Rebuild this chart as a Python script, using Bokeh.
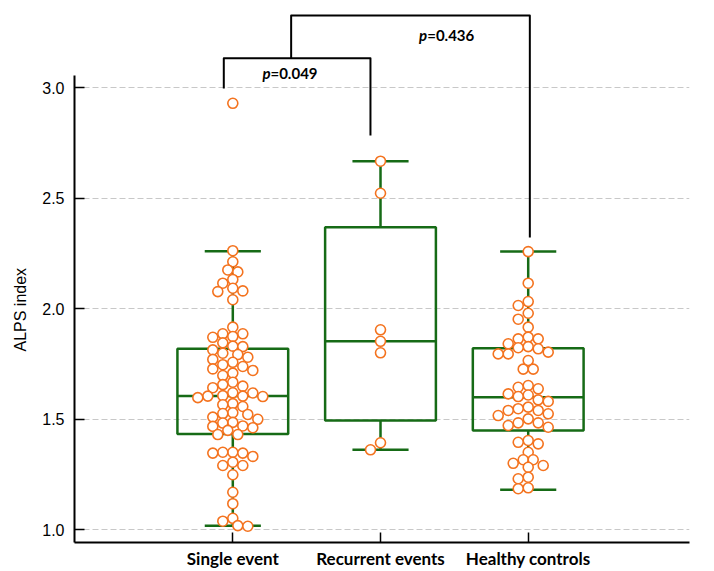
from bokeh.plotting import figure
from bokeh.models import Range1d, FixedTicker, PrintfTickFormatter, Title
from bokeh.core.properties import value
from bokeh.embed import file_html
from bokeh.resources import INLINE

# ---------------- data ----------------
groups = ["Single event", "Recurrent events", "Healthy controls"]

single = [2.93,
          2.263, 2.213, 2.176, 2.167, 2.133, 2.116, 2.093, 2.081, 2.078, 2.041,
          1.917, 1.887, 1.887, 1.875, 1.871, 1.846, 1.831, 1.829,
          1.814, 1.799, 1.793, 1.781, 1.771, 1.758, 1.747, 1.739, 1.728, 1.721,
          1.709, 1.698, 1.668, 1.657, 1.650, 1.643, 1.620, 1.619, 1.607, 1.605,
          1.605, 1.603, 1.598, 1.571, 1.566, 1.558, 1.530, 1.526, 1.522, 1.510,
          1.500, 1.486, 1.483, 1.470, 1.468, 1.462, 1.450, 1.431, 1.431,
          1.351, 1.351, 1.347, 1.347, 1.332, 1.306, 1.291, 1.291, 1.249, 1.170,
          1.118, 1.052, 1.039, 1.019, 1.016]
recurrent = [2.668, 2.523, 1.905, 1.853, 1.801, 1.394, 1.362]
healthy = [2.259, 2.116, 2.033, 2.015, 1.980, 1.953, 1.917, 1.872, 1.864, 1.864,
           1.842, 1.829, 1.824, 1.819, 1.804, 1.796, 1.796, 1.766, 1.727, 1.727,
           1.653, 1.645, 1.638, 1.615, 1.610, 1.603, 1.588, 1.581, 1.555, 1.548,
           1.540, 1.540, 1.525, 1.517, 1.502, 1.484, 1.484, 1.472, 1.464,
           1.404, 1.396, 1.389, 1.351, 1.317, 1.317, 1.301, 1.291, 1.283, 1.238,
           1.231, 1.190, 1.186]

whisker_lo = [1.018, 1.362, 1.181]
box_q1 = [1.434, 1.495, 1.449]
box_med = [1.605, 1.853, 1.600]
box_q3 = [1.819, 2.369, 1.822]
whisker_hi = [2.261, 2.668, 2.259]

y_ticks = [1.0, 1.5, 2.0, 2.5, 3.0]
y_label = "ALPS index"

p_values = ["=0.049", "=0.436"]

# ---------------- layout constants ----------------
W, H = 714, 571
BL, BR, BT, BB = 74, 25, 10, 29
X0, X1 = -0.0718, 4.092
Y0, Y1 = 0.9425, 3.350
px_x = (W - BL - BR) / (X1 - X0)
px_y = (H - BT - BB) / (Y1 - Y0)

GREEN = "#166b16"
ORANGE = "#f4731f"


def swarm(vals, step=5.0, mind=8.8):
    order = sorted(range(len(vals)), key=lambda i: -vals[i])
    placed = []
    offs = [0.0] * len(vals)
    cands = [0]
    for k in range(1, 12):
        cands += [-k, k]
    for i in order:
        y = vals[i] * px_y
        for k in cands:
            x = k * step
            if all((x - a) ** 2 + (y - b) ** 2 >= mind ** 2 for a, b in placed):
                placed.append((x, y))
                offs[i] = x / px_x
                break
    return offs


p = figure(width=W, height=H, output_backend="svg", toolbar_location=None,
           x_range=Range1d(X0, X1), y_range=Range1d(Y0, Y1),
           min_border_left=BL, min_border_right=BR, min_border_top=BT,
           min_border_bottom=BB)
p.outline_line_color = None
p.background_fill_color = "white"
p.xgrid.visible = False
p.ygrid.grid_line_color = "#c8c8c8"
p.ygrid.grid_line_dash = "6 3"
p.ygrid.grid_line_width = 1

xs = [1, 2, 3]
p.xaxis.ticker = FixedTicker(ticks=xs)
p.xaxis.major_label_overrides = {x: g for x, g in zip(xs, groups)}
p.xaxis.major_label_text_font = "Lato"
p.xaxis.major_label_text_font_style = "bold"
p.xaxis.major_label_text_font_size = "17px"
p.xaxis.major_label_text_color = "black"
p.xaxis.major_label_standoff = 5

p.yaxis.ticker = FixedTicker(ticks=y_ticks)
p.yaxis.formatter = PrintfTickFormatter(format="%.1f")
p.yaxis.bounds = (0.943, 3.056)
p.yaxis.major_label_text_font = "Liberation Sans"
p.yaxis.major_label_text_font_size = "16px"
p.yaxis.major_label_text_color = "black"
p.yaxis.major_label_standoff = 10

for ax in (p.xaxis, p.yaxis):
    ax.axis_line_width = 2
    ax.axis_line_color = "black"
    ax.major_tick_in = 10
    ax.major_tick_out = 0
    ax.major_tick_line_width = 1.5
    ax.major_tick_line_color = "black"
    ax.minor_tick_line_color = None

# y axis title, shifted so it is centred on the drawn axis span
p.add_layout(Title(text=y_label, align="left", offset=191, vertical_align="middle",
                   text_font="Liberation Sans", text_font_size="16px",
                   text_font_style="normal", text_color="black", standoff=20), "left")

# boxes
bw = 0.375
cw = 0.19
p.quad(left=[x - bw for x in xs], right=[x + bw for x in xs], bottom=box_q1, top=box_q3,
       fill_color=None, line_color=GREEN, line_width=2.5)
p.segment(x0=[x - bw for x in xs], x1=[x + bw for x in xs], y0=box_med, y1=box_med,
          line_color=GREEN, line_width=2.5)
p.segment(x0=xs, x1=xs, y0=box_q3, y1=whisker_hi, line_color=GREEN, line_width=2.5)
p.segment(x0=xs, x1=xs, y0=box_q1, y1=whisker_lo, line_color=GREEN, line_width=2.5)
p.segment(x0=[x - cw for x in xs], x1=[x + cw for x in xs], y0=whisker_hi, y1=whisker_hi,
          line_color=GREEN, line_width=2.5)
p.segment(x0=[x - cw for x in xs], x1=[x + cw for x in xs], y0=whisker_lo, y1=whisker_lo,
          line_color=GREEN, line_width=2.5)

# points
for x, vals in zip(xs, [single, recurrent, healthy]):
    offs = swarm(vals)
    p.scatter(x=[x + o for o in offs], y=vals, marker="circle", size=10,
              fill_color="white", line_color=ORANGE, line_width=1.6)

# brackets
p.line(x=[0.939, 0.939, 1.932, 1.932], y=[2.997, 3.134, 3.134, 2.784],
       line_color="black", line_width=2, line_join="round")
p.line(x=[1.395, 1.395, 3.011, 3.011], y=[3.134, 3.327, 3.327, 2.323],
       line_color="black", line_width=2, line_join="round")

txt_x = [1.255, 2.316]
txt_y = [3.065, 3.237]
p.text(x=txt_x, y=txt_y, text=["p", "p"], text_font=value("Lato"),
       text_font_style="bold italic", text_font_size="15px", text_align="right",
       text_baseline="middle", text_color="black")
p.text(x=txt_x, y=txt_y, text=p_values, text_font=value("Lato"),
       text_font_style="bold", text_font_size="15px", text_align="left",
       text_baseline="middle", text_color="black")

open("out.html", "w").write(file_html(p, INLINE))
